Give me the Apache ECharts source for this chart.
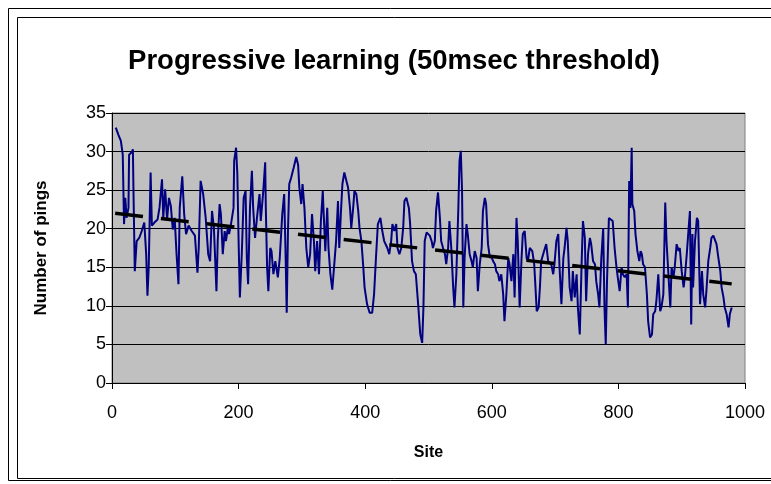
<!DOCTYPE html>
<html>
<head>
<meta charset="utf-8">
<script src="https://cdn.jsdelivr.net/npm/echarts@6/dist/echarts.min.js"></script>
<style>
html,body{margin:0;padding:0;background:#fff;}
#main{width:771px;height:484px;}
</style>
</head>
<body>
<div id="main"></div>
<script>
// ---- data ----
const titleText = 'Progressive learning (50msec threshold)';
const xName = 'Site';
const yName = 'Number of pings';
const sites = [6,10,14,17,19,21,23,26,27,31,33,34,36,39,43,47,51,54,56,58,61,63,67,72,75,79,81,84,87,90,93,96,99,102,105,107,111,114,117,121,126,131,135,137,140,144,148,152,155,158,161,165,
167,170,172,175,178,180,183,185,188,192,193,196,198,200,202,205,208,211,213,215,218,221,223,226,229,233,235,239,242,243,245,247,250,252,255,258,262,265,269,272,274,276,278,280,283,287,291,294,296,299,301,304,307,310,313,316,319,321,324,327,330,333,
334,337,340,342,345,348,351,354,357,359,362,364,367,370,373,376,378,381,383,386,389,391,394,397,399,403,407,411,414,417,420,424,427,430,435,438,441,443,446,449,451,454,457,460,462,465,469,471,474,477,480,484,487,490,492,494,497,500,
502,505,507,510,512,515,518,520,523,526,528,531,533,536,539,541,544,547,549,551,553,555,557,560,562,565,568,570,573,576,578,581,584,586,589,591,594,597,599,602,605,607,610,612,615,618,620,623,626,628,631,634,636,639,641,644,647,649,652,655,657,660,664,667,
669,671,674,676,678,681,684,686,689,692,694,697,699,702,705,707,710,713,715,718,720,723,726,728,731,734,736,739,742,744,747,749,752,755,757,760,763,765,768,770,773,776,778,780,782,785,788,791,794,797,799,802,805,807,810,813,815,817,819,821,822,825,827,830,833,835,
837,839,842,845,847,850,853,855,858,860,863,866,868,871,874,876,879,882,884,887,889,892,895,897,900,903,905,908,911,913,915,917,918,921,924,926,929,932,934,937,939,942,945,947,950,953,955,958,961,963,966,968,971,974,976,979];
const pings = [33.1,32.2,31.4,29.6,20.6,24.0,21.4,22.7,29.6,29.9,30.3,24.5,14.5,18.4,18.8,19.7,20.8,16.7,11.3,15.0,27.3,20.4,20.8,21.2,22.7,26.4,21.4,25.1,21.2,24.0,22.9,19.9,21.4,16.7,12.8,22.7,26.8,21.9,19.3,20.4,19.7,19.1,14.3,17.5,26.2,24.5,21.4,16.7,15.8,22.3,20.1,11.9,
18.4,23.2,21.9,16.7,19.7,18.4,20.1,19.3,20.6,22.7,28.8,30.5,27.1,18.4,11.1,16.7,24.0,24.9,16.2,12.8,22.7,27.5,22.7,18.8,21.4,24.5,21.0,24.9,28.6,22.7,15.0,11.9,17.5,17.1,14.1,15.8,13.7,16.2,21.9,24.5,17.5,9.1,19.7,25.8,26.6,27.9,29.3,28.3,25.3,23.2,25.8,22.7,17.5,15.0,16.7,21.9,18.4,14.5,18.4,14.1,21.0,24.9,
22.7,17.1,22.7,17.5,14.1,12.1,12.1,18.4,23.6,17.5,22.7,25.8,27.3,27.5,25.3,22.7,20.1,22.7,24.9,24.5,22.3,20.1,18.4,15.0,12.4,10.2,9.1,9.1,11.5,16.2,20.6,21.4,19.7,18.4,17.5,16.7,18.4,20.6,19.7,20.6,17.5,16.7,17.5,20.1,23.6,24.0,22.7,20.6,15.8,14.5,14.1,9.8,6.3,5.2,9.8,18.4,19.5,19.5,
19.1,18.4,17.5,18.4,22.3,24.7,21.4,18.4,17.5,16.7,15.4,17.5,21.0,17.5,12.4,9.8,14.1,22.3,28.8,30.1,24.9,9.8,16.2,20.6,19.3,16.7,15.8,15.0,17.1,16.2,11.9,15.4,17.5,22.3,24.0,23.2,18.0,16.2,16.5,15.8,15.4,14.5,14.1,13.2,14.1,11.5,8.0,11.5,16.2,15.4,13.2,16.7,11.1,21.4,18.4,9.8,16.2,19.3,19.7,16.2,15.8,17.5,17.1,15.4,
12.4,9.3,9.8,12.4,15.8,15.8,17.5,18.0,15.8,15.8,15.4,14.1,15.4,18.4,19.3,15.0,10.2,16.2,17.5,20.1,18.4,12.4,10.6,14.5,11.1,14.1,9.8,6.3,15.8,21.0,18.8,10.6,16.7,18.8,18.0,15.8,15.4,13.2,11.5,9.8,16.2,20.1,9.8,5.0,13.2,21.4,21.4,21.0,17.5,15.0,13.7,11.9,15.0,14.1,13.7,14.1,9.8,26.2,22.7,30.5,23.2,22.3,19.3,17.1,15.8,17.1,
16.7,15.4,15.0,11.5,8.0,5.9,6.3,8.9,9.3,10.6,14.1,9.3,9.8,11.5,23.4,18.4,14.1,9.8,15.0,13.7,15.0,18.0,17.1,17.5,14.5,12.4,13.7,16.7,20.1,22.3,7.6,19.3,12.4,18.4,21.4,21.0,10.2,14.5,11.5,9.8,11.9,15.8,17.5,18.8,19.1,19.1,18.0,16.2,14.5,12.4,11.1,9.8,8.9,7.2,8.9,9.8];
const trendSites = [5, 979];
const trendPings = [22.0, 12.85];
const xTicks = {min: 0, max: 1000, interval: 200};
const yTicks = {min: 0, max: 35, interval: 5};

// ---- chart ----
const chart = echarts.init(document.getElementById('main'), null, {renderer: 'canvas'});
const FONT = 'Liberation Sans, Arial, sans-serif';
const lineData = sites.map((s, i) => [s, pings[i]]);
const trendData = trendSites.map((s, i) => [s, trendPings[i]]);

chart.setOption({
  animation: false,
  backgroundColor: '#ffffff',
  title: {
    text: titleText,
    left: 389,
    top: 42,
    textAlign: 'center',
    textStyle: {fontFamily: FONT, fontSize: 27.5, fontWeight: 'bold', color: '#000'}
  },
  graphic: [
    {type: 'rect', shape: {x: 8.5, y: 8.5, width: 800, height: 472}, style: {fill: null, stroke: '#000', lineWidth: 1}, silent: true, z: -10},
    {type: 'rect', shape: {x: 17.5, y: 17.5, width: 800, height: 461}, style: {fill: null, stroke: '#000', lineWidth: 1}, silent: true, z: -10}
  ],
  grid: {
    left: 112, top: 113, width: 633, height: 270,
    show: true, backgroundColor: '#C0C0C0', borderColor: '#808080', borderWidth: 1,
    containLabel: false
  },
  xAxis: {
    type: 'value', min: xTicks.min, max: xTicks.max, interval: xTicks.interval,
    name: xName, nameLocation: 'middle', nameGap: 62,
    nameTextStyle: {fontFamily: FONT, fontSize: 16, fontWeight: 'bold', color: '#000'},
    axisLine: {show: true, onZero: false, lineStyle: {color: '#000', width: 1}},
    axisTick: {show: true, inside: false, length: 6, lineStyle: {color: '#000'}},
    axisLabel: {fontFamily: FONT, fontSize: 18, color: '#000', margin: 21, formatter: v => String(v)},
    splitLine: {show: false}
  },
  yAxis: {
    type: 'value', min: yTicks.min, max: yTicks.max, interval: yTicks.interval,
    name: yName, nameLocation: 'middle', nameGap: 62,
    nameTextStyle: {fontFamily: FONT, fontSize: 17, fontWeight: 'bold', color: '#000'},
    axisLine: {show: true, onZero: false, lineStyle: {color: '#000', width: 1}},
    axisTick: {show: true, inside: false, length: 6, lineStyle: {color: '#000'}},
    axisLabel: {fontFamily: FONT, fontSize: 18, color: '#000', margin: 6, formatter: v => String(v)},
    splitLine: {show: true, lineStyle: {color: '#000', width: 1}}
  },
  series: [
    {
      type: 'line', data: lineData, showSymbol: false, symbol: 'none',
      lineStyle: {color: '#000080', width: 2}, z: 2
    },
    {
      type: 'line', data: trendData, showSymbol: false, symbol: 'none',
      lineStyle: {color: '#000', width: 3.5, type: [28, 18]}, z: 3
    }
  ]
});
</script>
</body>
</html>
